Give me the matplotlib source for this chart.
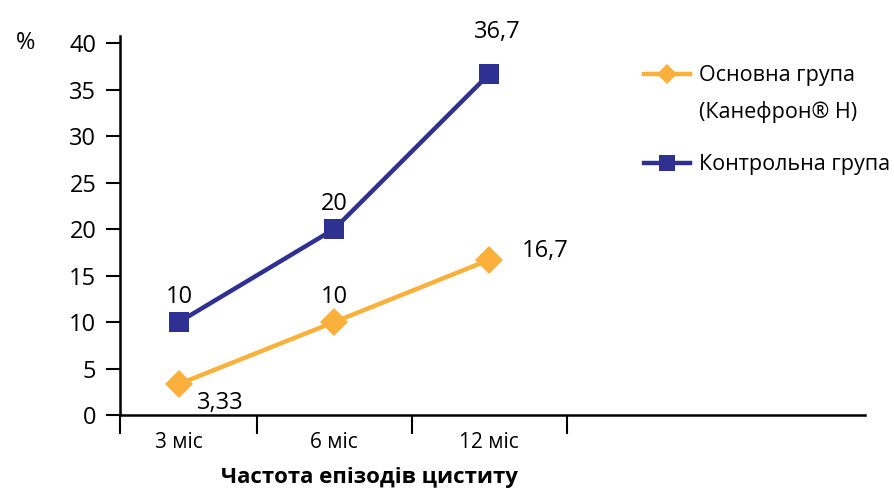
import numpy as np
import matplotlib
matplotlib.use('Agg')
from matplotlib import pyplot as plt

plt.rcParams['font.family'] = ['Open Sans', 'DejaVu Sans']

months = ['3 міс', '6 міс', '12 міс']
main_group = [3.33, 10, 16.7]
control_group = [10, 20, 36.7]
main_labels = ['3,33', '10', '16,7']
control_labels = ['10', '20', '36,7']
y_ticks = [0, 5, 10, 15, 20, 25, 30, 35, 40]

blue = '#2E3192'
orange = '#FBB03B'

fig = plt.figure(figsize=(8.95, 4.88), dpi=100)
ax = fig.add_axes([0.134, 0.1496, 0.8324, 0.777])

x = np.arange(len(months))
l_main, = ax.plot(x, main_group, color=orange, lw=3.2, marker='D', ms=14, mew=0)
l_ctrl, = ax.plot(x, control_group, color=blue, lw=3.2, marker='s', ms=15, mew=0)

# value labels
main_off = [(30, -14), (0, 18), (40, 6)]
ctrl_off = [(0, 18), (0, 18), (6, 30)]
for xi, v, t, o in zip(x, main_group, main_labels, main_off):
    ax.annotate(t, (xi, v), xytext=o, textcoords='offset points',
                ha='center', va='center', fontsize=17)
for xi, v, t, o in zip(x, control_group, control_labels, ctrl_off):
    ax.annotate(t, (xi, v), xytext=o, textcoords='offset points',
                ha='center', va='center', fontsize=17)

ax.set_xlim(-0.38, 4.42)
ax.set_ylim(0, 40.8)
ax.set_yticks(y_ticks)
ax.set_xticks(x)
ax.set_xticklabels(months, fontsize=15)
ax.set_xticks([-0.38, 0.5, 1.5, 2.5], minor=True)
ax.tick_params(axis='x', which='major', length=0, pad=12)
ax.tick_params(axis='x', which='minor', length=14, width=1.5, direction='out')
ax.tick_params(axis='y', length=10, width=1.5, labelsize=17, pad=7)
for s in ['top', 'right']:
    ax.spines[s].set_visible(False)
for s in ['left', 'bottom']:
    ax.spines[s].set_linewidth(1.8)

fig.text(0.018, 0.911, '%', fontsize=17, va='center', ha='left')
fig.text(0.413, 0.022, 'Частота епізодів циститу', fontsize=16,
         fontweight='bold', ha='center', va='center')

# legend: handle on first line of the two-line label
blank = plt.Line2D([], [], linestyle='none')
leg_opts = dict(bbox_transform=fig.transFigure, frameon=False, fontsize=15.5,
                handlelength=2.1, handletextpad=0.45, markerscale=0.75,
                borderpad=0, borderaxespad=0)
leg1 = ax.legend([l_main, blank], ['Основна група', '(Канефрон® Н)'],
                 loc='upper left', bbox_to_anchor=(0.72, 0.866),
                 labelspacing=0.7, **leg_opts)
ax.add_artist(leg1)
ax.legend([l_ctrl], ['Контрольна група'], loc='center left',
          bbox_to_anchor=(0.72, 0.662), **leg_opts)

fig.savefig('out.png', dpi=100)
